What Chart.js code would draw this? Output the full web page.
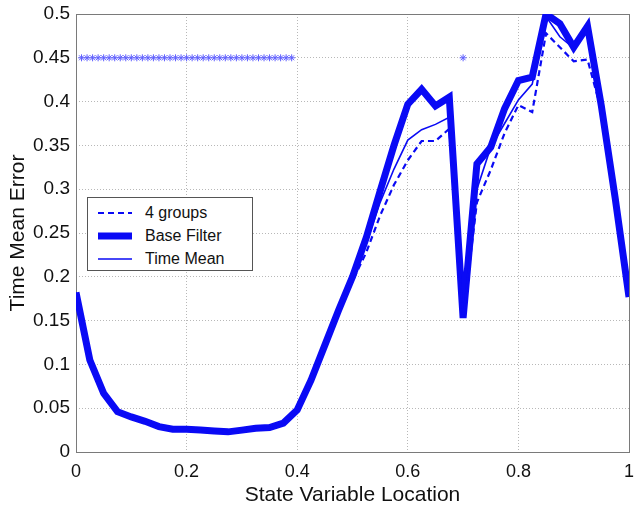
<!DOCTYPE html>
<html>
<head>
<meta charset="utf-8">
<script src="https://cdn.jsdelivr.net/npm/chart.js@4.4.1/dist/chart.umd.min.js"></script>
<style>
  html,body{margin:0;padding:0;background:#fff;}
  #wrap{position:relative;width:634px;height:509px;}
  #legend{position:absolute;left:87px;top:197px;width:164px;height:72px;border:1px solid #555;background:#fff;
    font-family:"Liberation Sans",Arial,sans-serif;font-size:16px;color:#111;box-sizing:content-box;}
  .lrow{position:absolute;left:0;height:22px;line-height:22px;}
  .lrow svg{position:absolute;left:10px;top:6px;}
  .lrow span{position:absolute;left:57px;white-space:nowrap;}
</style>
</head>
<body>
<div id="wrap">
  <canvas id="c" width="634" height="509"></canvas>
  <div id="legend"></div>
</div>
<script>
// state variable location (41 points, periodic domain)
const xLoc = [0,0.025,0.05,0.075,0.1,0.125,0.15,0.175,0.2,0.225,0.25,0.275,0.3,0.325,0.35,0.375,0.4,0.425,0.45,0.475,
  0.5,0.525,0.55,0.575,0.6,0.625,0.65,0.675,0.7,0.725,0.75,0.775,0.8,0.825,0.85,0.875,0.9,0.925,0.95,0.975,1];

const baseFilter = [0.182,0.105,0.067,0.046,0.040,0.035,0.029,0.026,0.026,0.025,0.024,0.023,0.025,0.027,0.028,0.033,0.048,0.082,0.122,0.162,
  0.200,0.245,0.298,0.350,0.397,0.414,0.395,0.405,0.153,0.329,0.348,0.392,0.424,0.428,0.500,0.489,0.462,0.486,0.395,0.290,0.177];

const timeMean = [0.182,0.105,0.067,0.046,0.040,0.035,0.029,0.026,0.026,0.025,0.024,0.023,0.025,0.027,0.028,0.033,0.048,0.083,0.123,0.160,
  0.198,0.238,0.285,0.323,0.356,0.368,0.374,0.382,0.153,0.300,0.348,0.375,0.402,0.420,0.497,0.474,0.461,0.486,0.395,0.288,0.177];

const fourGroups = [0.182,0.105,0.067,0.046,0.040,0.035,0.029,0.026,0.026,0.025,0.024,0.023,0.025,0.027,0.028,0.033,0.049,0.085,0.125,0.165,
  0.195,0.228,0.270,0.305,0.333,0.355,0.355,0.369,0.153,0.285,0.322,0.364,0.396,0.388,0.478,0.462,0.446,0.448,0.390,0.285,0.177];

// locations flagged with a star marker
const markerX = [0.01,0.02,0.03,0.04,0.05,0.06,0.07,0.08,0.09,0.10,0.11,0.12,0.13,0.14,0.15,0.16,0.17,0.18,0.19,0.20,
  0.21,0.22,0.23,0.24,0.25,0.26,0.27,0.28,0.29,0.30,0.31,0.32,0.33,0.34,0.35,0.36,0.37,0.38,0.39,0.70];
const MARKER_LEVEL = 0.45;

const seriesNames = ['4 groups','Base Filter','Time Mean'];
const BLUE = '#0a0af5';
const FONT = '"Liberation Sans", Arial, sans-serif';

function pts(ys){ return xLoc.map(function(x,i){ return {x:x,y:ys[i]}; }); }

const frame = {
  id:'frame',
  beforeDatasetsDraw:function(ch){
    const a=ch.chartArea, ctx=ch.ctx;
    ctx.save(); ctx.strokeStyle='#7a7a7a'; ctx.lineWidth=1;
    ctx.strokeRect(Math.round(a.left)+0.5, Math.round(a.top)+0.5, Math.round(a.right-a.left), Math.round(a.bottom-a.top));
    ctx.restore();
  }
};

new Chart(document.getElementById('c'),{
  type:'line',
  data:{datasets:[
    {label:seriesNames[0], data:pts(fourGroups), borderColor:BLUE, borderWidth:2.2, borderDash:[6,4], pointRadius:0, order:1},
    {label:seriesNames[1], data:pts(baseFilter), borderColor:BLUE, borderWidth:7, pointRadius:0, order:3, borderJoinStyle:'miter'},
    {label:seriesNames[2], data:pts(timeMean), borderColor:BLUE, borderWidth:1.6, pointRadius:0, order:2},
    {label:'marks', data:markerX.map(function(x){return {x:x,y:MARKER_LEVEL};}), showLine:false,
     pointStyle:'star', pointRadius:3.5, borderColor:'#5f5fff', borderWidth:1, backgroundColor:'#5f5fff', order:0}
  ]},
  options:{
    responsive:false, animation:false, devicePixelRatio:1,
    layout:{padding:{top:14,right:1,left:0,bottom:0}},
    plugins:{legend:{display:false}, tooltip:{enabled:false}},
    scales:{
      x:{type:'linear', min:0, max:1,
        afterFit:function(s){ s.height=57; s.paddingRight=0; s.paddingLeft=0; },
        ticks:{stepSize:0.2, color:'#111', font:{family:FONT,size:18}, padding:9, maxRotation:0,
          callback:function(v){ return String(+v.toFixed(2)); }},
        grid:{color:'#b8b8b8', lineWidth:1, drawTicks:false},
        border:{display:false, dash:[1,2]},
        title:{display:true, text:'State Variable Location', color:'#111', font:{family:FONT,size:21}, padding:{top:0,bottom:1}}
      },
      y:{min:0, max:0.5,
        afterFit:function(s){ s.width=76; s.paddingTop=0; s.paddingBottom=0; },
        ticks:{stepSize:0.05, color:'#111', font:{family:FONT,size:19}, padding:6,
          callback:function(v){ return String(+v.toFixed(2)); }},
        grid:{color:'#b8b8b8', lineWidth:1, drawTicks:false},
        border:{display:false, dash:[1,2]},
        title:{display:true, text:'Time Mean Error', color:'#111', font:{family:FONT,size:21}, padding:{top:6,bottom:6}}
      }
    }
  },
  plugins:[frame]
});

// legend inside the plot, built from the series names
const sampleStyles = [
  {w:2.2, dash:'6 4'},
  {w:7, dash:''},
  {w:1.6, dash:''}
];
document.getElementById('legend').innerHTML = seriesNames.map(function(n,i){
  const s=sampleStyles[i];
  return '<div class="lrow" style="top:'+(4+i*23)+'px;width:164px">'
    + '<svg width="36" height="10"><line x1="0" y1="5" x2="34" y2="5" stroke="'+BLUE+'" stroke-width="'+s.w+'"'
    + (s.dash?' stroke-dasharray="'+s.dash+'"':'')+'/></svg>'
    + '<span>'+n+'</span></div>';
}).join('');
</script>
</body>
</html>
